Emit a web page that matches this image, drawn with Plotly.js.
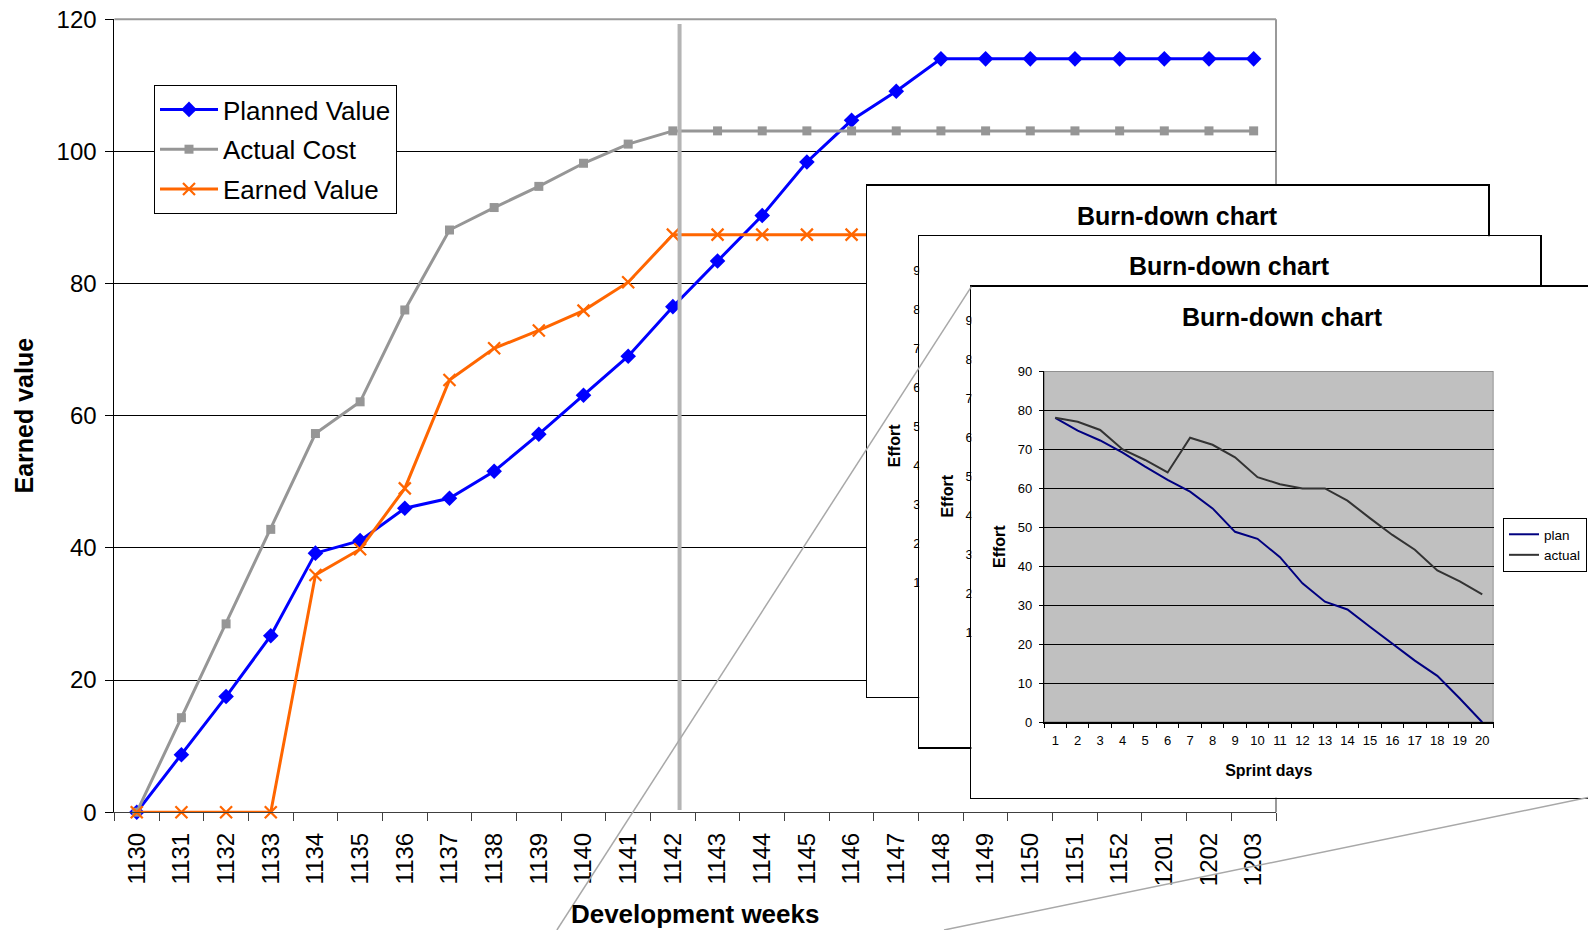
<!DOCTYPE html>
<html>
<head>
<meta charset="utf-8">
<script src="https://cdn.plot.ly/plotly-3.0.1.min.js"></script>
<style>
html,body{margin:0;padding:0;background:#ffffff;}
#chart{width:1588px;height:930px;}
</style>
</head>
<body>
<div id="chart"></div>
<script>
// ---------- Main chart data (earned value analysis) ----------
const weeks = ['1130','1131','1132','1133','1134','1135','1136','1137','1138','1139','1140','1141','1142',
               '1143','1144','1145','1146','1147','1148','1149','1150','1151','1152','1201','1202','1203'];
const plannedValue = [0, 8.7, 17.5, 26.7, 39.2, 41.1, 46.0, 47.5, 51.6, 57.2, 63.1, 69.0, 76.5,
                      83.4, 90.3, 98.4, 104.7, 109.1, 114.0, 114.0, 114.0, 114.0, 114.0, 114.0, 114.0, 114.0];
const actualCost   = [0, 14.3, 28.5, 42.8, 57.3, 62.1, 76.0, 88.1, 91.5, 94.7, 98.2, 101.1, 103.1,
                      103.1, 103.1, 103.1, 103.1, 103.1, 103.1, 103.1, 103.1, 103.1, 103.1, 103.1, 103.1, 103.1];
const earnedValue  = [0, 0, 0, 0, 35.9, 39.8, 49.0, 65.4, 70.2, 72.9, 75.9, 80.2, 87.4,
                      87.4, 87.4, 87.4, 87.4, 87.4, 87.4, 87.4, 87.4, 87.4, 87.4, 87.4, 87.4, 87.4];
const seriesNames = ['Planned Value', 'Actual Cost', 'Earned Value'];
const statusWeek = '1142';

// ---------- Inset chart data (burn-down) ----------
const sprintDays = ['1','2','3','4','5','6','7','8','9','10','11','12','13','14','15','16','17','18','19','20'];
const planEffort   = [78, 74.7, 72.2, 69.1, 65.5, 62.1, 59.1, 54.8, 48.8, 47.0, 42.3, 35.6, 30.9, 28.9, 24.5, 20.2, 15.8, 11.9, 6.1, 0];
const actualEffort = [78, 77.0, 74.9, 69.9, 67.2, 64.0, 72.9, 71.1, 67.9, 62.8, 61.0, 59.9, 59.9, 56.8, 52.3, 48.0, 44.2, 38.9, 36.1, 32.8];
const insetNames = ['plan', 'actual'];
const insetTitle = 'Burn-down chart';

// ---------- layout helpers ----------
const W = 1588, H = 930;
const FONT = 'Liberation Sans, Arial, Helvetica, sans-serif';
const px = v => Math.min(1, Math.max(0, v / W));
const py = v => Math.min(1, Math.max(0, 1 - v / H));

const traces = [];

// main chart traces
traces.push({
  type: 'scatter', mode: 'lines+markers', x: weeks, y: plannedValue, name: seriesNames[0],
  xaxis: 'x', yaxis: 'y', legend: 'legend', legendgroup: 'pv',
  line: {color: '#0000FF', width: 3},
  marker: {symbol: 'diamond', size: 12, color: '#0000FF'},
  hoverinfo: 'skip', cliponaxis: false
});
traces.push({
  type: 'scatter', mode: 'lines+markers', x: weeks, y: actualCost, name: seriesNames[1],
  xaxis: 'x', yaxis: 'y', legend: 'legend', legendgroup: 'ac',
  line: {color: '#969696', width: 3},
  marker: {symbol: 'square', size: 9, color: '#969696'},
  hoverinfo: 'skip', cliponaxis: false
});
traces.push({
  type: 'scatter', mode: 'lines+markers', x: weeks, y: earnedValue, name: seriesNames[2],
  xaxis: 'x', yaxis: 'y', legend: 'legend', legendgroup: 'ev',
  line: {color: '#FF6600', width: 3},
  marker: {symbol: 'x-thin', size: 12, color: '#FF6600', line: {color: '#FF6600', width: 2.2}},
  hoverinfo: 'skip', cliponaxis: false
});

// stacked burn-down panels (back to front)
const P3 = {x: 971.4, y: 286.6};
const panelStep = {x: 52.2, y: 50.4};
const panelSize = {w: 621.2, h: 511};
const insetBox = {l: 72.6, t: 84.4, r: 522.1, b: 435.7};

const layout = {
  width: W, height: H,
  margin: {l: 0, r: 0, t: 0, b: 0, pad: 0},
  paper_bgcolor: '#ffffff', plot_bgcolor: '#ffffff',
  font: {family: FONT, color: '#000000'},
  hovermode: false,
  showlegend: true,
  xaxis: {
    domain: [px(114.4), px(1276)], anchor: 'y', type: 'category',
    categoryorder: 'array', categoryarray: weeks, range: [-0.5, weeks.length - 0.5],
    tickson: 'boundaries', ticks: 'outside', ticklen: 8, tickcolor: '#404040', tickwidth: 1,
    showline: true, linecolor: '#404040', linewidth: 1,
    showgrid: false, zeroline: false, tickangle: -90, ticklabelstandoff: 10,
    tickfont: {family: FONT, size: 24, color: '#000'}, automargin: false,
    title: {text: 'Development weeks', font: {family: FONT, size: 26, weight: 'bold', color: '#000'}, standoff: 19}
  },
  yaxis: {
    domain: [py(812.2), py(19.2)], anchor: 'x', range: [0, 120], tick0: 0, dtick: 20,
    ticks: 'outside', ticklen: 8, tickcolor: '#000', tickwidth: 1, ticklabelstandoff: 4,
    showline: true, linecolor: '#000', linewidth: 1,
    showgrid: true, gridcolor: '#000', gridwidth: 1, zeroline: false,
    tickfont: {family: FONT, size: 24, color: '#000'}, automargin: false,
    title: {text: 'Earned value', font: {family: FONT, size: 25, weight: 'bold', color: '#000'}, standoff: 15}
  },
  legend: {
    x: px(154), y: py(85), xanchor: 'left', yanchor: 'top',
    bgcolor: '#ffffff', bordercolor: '#000000', borderwidth: 1,
    font: {family: FONT, size: 26, color: '#000'},
    itemwidth: 58, traceorder: 'grouped', tracegroupgap: 3
  },
  legend2: {
    x: px(1587), y: py(518), xanchor: 'right', yanchor: 'top',
    bgcolor: '#ffffff', bordercolor: '#000000', borderwidth: 1,
    font: {family: FONT, size: 13.5, color: '#000'}, itemwidth: 30
  },
  shapes: [],
  annotations: []
};

// main plot area border (top / right) - drawn below traces so panels cover it
layout.shapes.push({type: 'line', xref: 'paper', yref: 'paper', x0: px(114.4), x1: px(1276), y0: py(19.2), y1: py(19.2),
  line: {color: '#9a9a9a', width: 2}, layer: 'below'});
layout.shapes.push({type: 'line', xref: 'paper', yref: 'paper', x0: px(1276), x1: px(1276), y0: py(812.2), y1: py(19.2),
  line: {color: '#9a9a9a', width: 2}, layer: 'below'});

let axisNum = 2;
for (let p = 0; p < 3; p++) {
  const back = 2 - p;
  const ox = P3.x - back * panelStep.x;
  const oy = P3.y - back * panelStep.y;
  const isFront = (p === 2);
  const fx = 'x' + axisNum, fy = 'y' + axisNum;
  const ix = 'x' + (axisNum + 1), iy = 'y' + (axisNum + 1);

  // frame subplot (white card with black border)
  layout['xaxis' + axisNum] = {
    domain: [px(ox), px(ox + panelSize.w)], anchor: fy, range: [0, 1], fixedrange: true,
    showticklabels: false, ticks: '', showgrid: false, zeroline: false,
    showline: true, mirror: true, linecolor: '#000', linewidth: 1.5, automargin: false
  };
  layout['yaxis' + axisNum] = {
    domain: [py(oy + panelSize.h), py(oy)], anchor: fx, range: [0, 1], fixedrange: true,
    showticklabels: false, ticks: '', showgrid: false, zeroline: false,
    showline: true, mirror: !isFront, linecolor: '#000', linewidth: 1.5, automargin: false
  };
  traces.push({type: 'scatter', mode: 'lines', x: [null], y: [null], xaxis: fx, yaxis: fy,
    showlegend: false, hoverinfo: 'skip'});

  // inset burn-down subplot (the back panels' day labels are fully hidden by the next card)
  layout['xaxis' + (axisNum + 1)] = {
    domain: [px(ox + insetBox.l), px(ox + insetBox.r)], anchor: iy, type: 'category',
    categoryorder: 'array', categoryarray: sprintDays, range: [-0.5, sprintDays.length - 0.5],
    tickson: 'boundaries', ticks: 'outside', ticklen: 4, tickcolor: '#000', tickwidth: 1,
    showline: true, linecolor: '#000', linewidth: 1.2, showgrid: false, zeroline: false,
    tickangle: 0, ticklabelstandoff: 6, showticklabels: isFront,
    tickfont: {family: FONT, size: 13, color: '#000'}, automargin: false, fixedrange: true,
    title: isFront ? {text: 'Sprint days', font: {family: FONT, size: 16, weight: 'bold', color: '#000'}, standoff: 17} : {text: ''}
  };
  layout['yaxis' + (axisNum + 1)] = {
    domain: [py(oy + insetBox.b), py(oy + insetBox.t)], anchor: ix, range: [0, 90], tick0: 0, dtick: 10,
    ticks: 'outside', ticklen: 4, tickcolor: '#000', tickwidth: 1, ticklabelstandoff: 4,
    showline: true, linecolor: '#000', linewidth: 1.2,
    showgrid: true, gridcolor: '#000', gridwidth: 1, zeroline: false,
    tickfont: {family: FONT, size: 13, color: '#000'}, automargin: false, fixedrange: true,
    title: {text: 'Effort', font: {family: FONT, size: 16, weight: 'bold', color: '#000'}, standoff: 8}
  };
  // grey plot area of the inset
  layout.shapes.push({type: 'rect', xref: ix, yref: iy, x0: -0.5, x1: sprintDays.length - 0.5, y0: 0, y1: 90,
    fillcolor: '#C0C0C0', line: {color: '#808080', width: 1.5}, layer: 'below'});

  traces.push({type: 'scatter', mode: 'lines', x: sprintDays, y: planEffort, name: insetNames[0],
    xaxis: ix, yaxis: iy, legend: 'legend2', showlegend: isFront,
    line: {color: '#000080', width: 2}, hoverinfo: 'skip'});
  traces.push({type: 'scatter', mode: 'lines', x: sprintDays, y: actualEffort, name: insetNames[1],
    xaxis: ix, yaxis: iy, legend: 'legend2', showlegend: isFront,
    line: {color: '#333333', width: 2}, hoverinfo: 'skip'});

  layout.annotations.push({xref: 'paper', yref: 'paper', x: px(ox + panelSize.w / 2), y: py(oy + 30),
    xanchor: 'center', yanchor: 'middle', showarrow: false, text: insetTitle,
    font: {family: FONT, size: 25, weight: 'bold', color: '#000'}});

  axisNum += 2;
}

// status-week marker line
layout.shapes.push({type: 'line', xref: 'x', yref: 'paper', x0: weeks.indexOf(statusWeek) + 0.15, x1: weeks.indexOf(statusWeek) + 0.15,
  y0: py(810), y1: py(24), line: {color: '#B4B4B4', width: 4}, layer: 'above'});
// zoom lines from the front burn-down panel
layout.shapes.push({type: 'line', xref: 'paper', yref: 'paper', x0: px(P3.x), y0: py(P3.y), x1: px(556.9), y1: py(930),
  line: {color: '#A8A8A8', width: 1.5}, layer: 'above'});
layout.shapes.push({type: 'line', xref: 'paper', yref: 'paper', x0: px(1588), y0: py(797.5), x1: px(944), y1: py(930),
  line: {color: '#A8A8A8', width: 1.5}, layer: 'above'});

Plotly.newPlot('chart', traces, layout, {staticPlot: true, displayModeBar: false});
</script>
</body>
</html>
